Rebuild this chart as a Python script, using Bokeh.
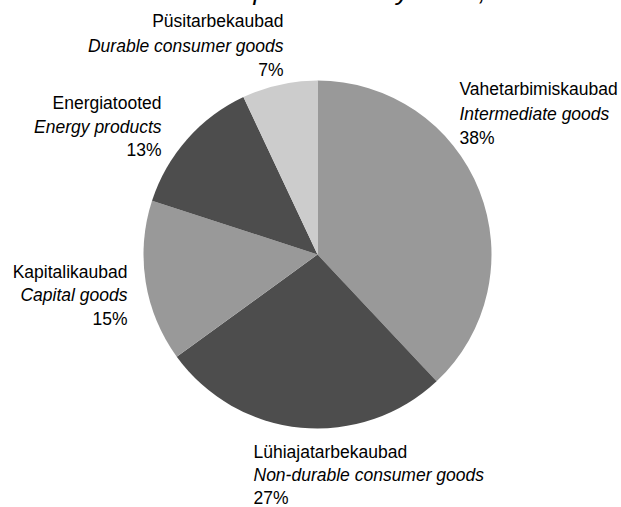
import math
from bokeh.plotting import figure
from bokeh.models import ColumnDataSource, Range1d
from bokeh.core.properties import value
from bokeh.embed import file_html
from bokeh.resources import INLINE

# ---- data ----
title = "Structure of industrial production by MIGs, 1999"
labels_et = ["Vahetarbimiskaubad", "Lühiajatarbekaubad", "Kapitalikaubad", "Energiatooted", "Püsitarbekaubad"]
labels_en = ["Intermediate goods", "Non-durable consumer goods", "Capital goods", "Energy products", "Durable consumer goods"]
shares = [38, 27, 15, 13, 7]
colors = ["#999999", "#4d4d4d", "#999999", "#4d4d4d", "#cccccc"]

# ---- layout (pixel-like data space) ----
W, H = 621, 529
TOP = 22          # figure top sits 22px above page top
def fy(sy):
    return (H - TOP) - sy

cx, cy, r = 317, fy(254), 174

total = sum(shares)
starts, ends = [], []
cum = 0.0
for s in shares:
    a0 = math.pi / 2 - 2 * math.pi * cum / total
    cum += s
    a1 = math.pi / 2 - 2 * math.pi * cum / total
    starts.append(a0)
    ends.append(a1)

src = ColumnDataSource(dict(x=[cx] * len(shares), y=[cy] * len(shares),
                            start=starts, end=ends, color=colors))

p = figure(width=W, height=H, output_backend="svg", toolbar_location=None,
           x_range=Range1d(0, W), y_range=Range1d(0, H), min_border=0,
           outline_line_color=None, background_fill_color="white",
           border_fill_color="white")
p.axis.visible = False
p.grid.visible = False
p.styles = {"margin-top": "-22px", "margin-left": "0px", "margin-bottom": "-8px"}

p.wedge(x="x", y="y", radius=r, start_angle="start", end_angle="end",
        direction="clock", fill_color="color", line_color=None, source=src)

FONT = value("Liberation Sans")
FS = "17.5px"
SHIFT = 7  # rendered baseline bias

# label anchors: (x, baselines, align)
anchors = [
    (459, [95, 120, 144], "left"),
    (253, [458, 481, 504], "left"),
    (127, [278, 301, 325], "right"),
    (161, [109, 133, 156], "right"),
    (283, [27, 52, 76], "right"),
]
for i, (ax, bls, al) in enumerate(anchors):
    texts = [labels_et[i], labels_en[i], f"{shares[i]}%"]
    styles = ["normal", "italic", "normal"]
    for t, b, st in zip(texts, bls, styles):
        p.text(x=[ax], y=[fy(b - SHIFT)], text=[t], text_font=FONT, text_font_size=FS,
               text_font_style=st, text_align=al, text_baseline="alphabetic",
               text_color="#000000")

# cut-off title at the very top
p.text(x=[0], y=[fy(-10)], text=[title], text_font=FONT, text_font_size="26px",
       text_font_style="italic", text_align="left", text_baseline="alphabetic",
       text_color="#000000")

open("out.html", "w").write(file_html(p, INLINE))
